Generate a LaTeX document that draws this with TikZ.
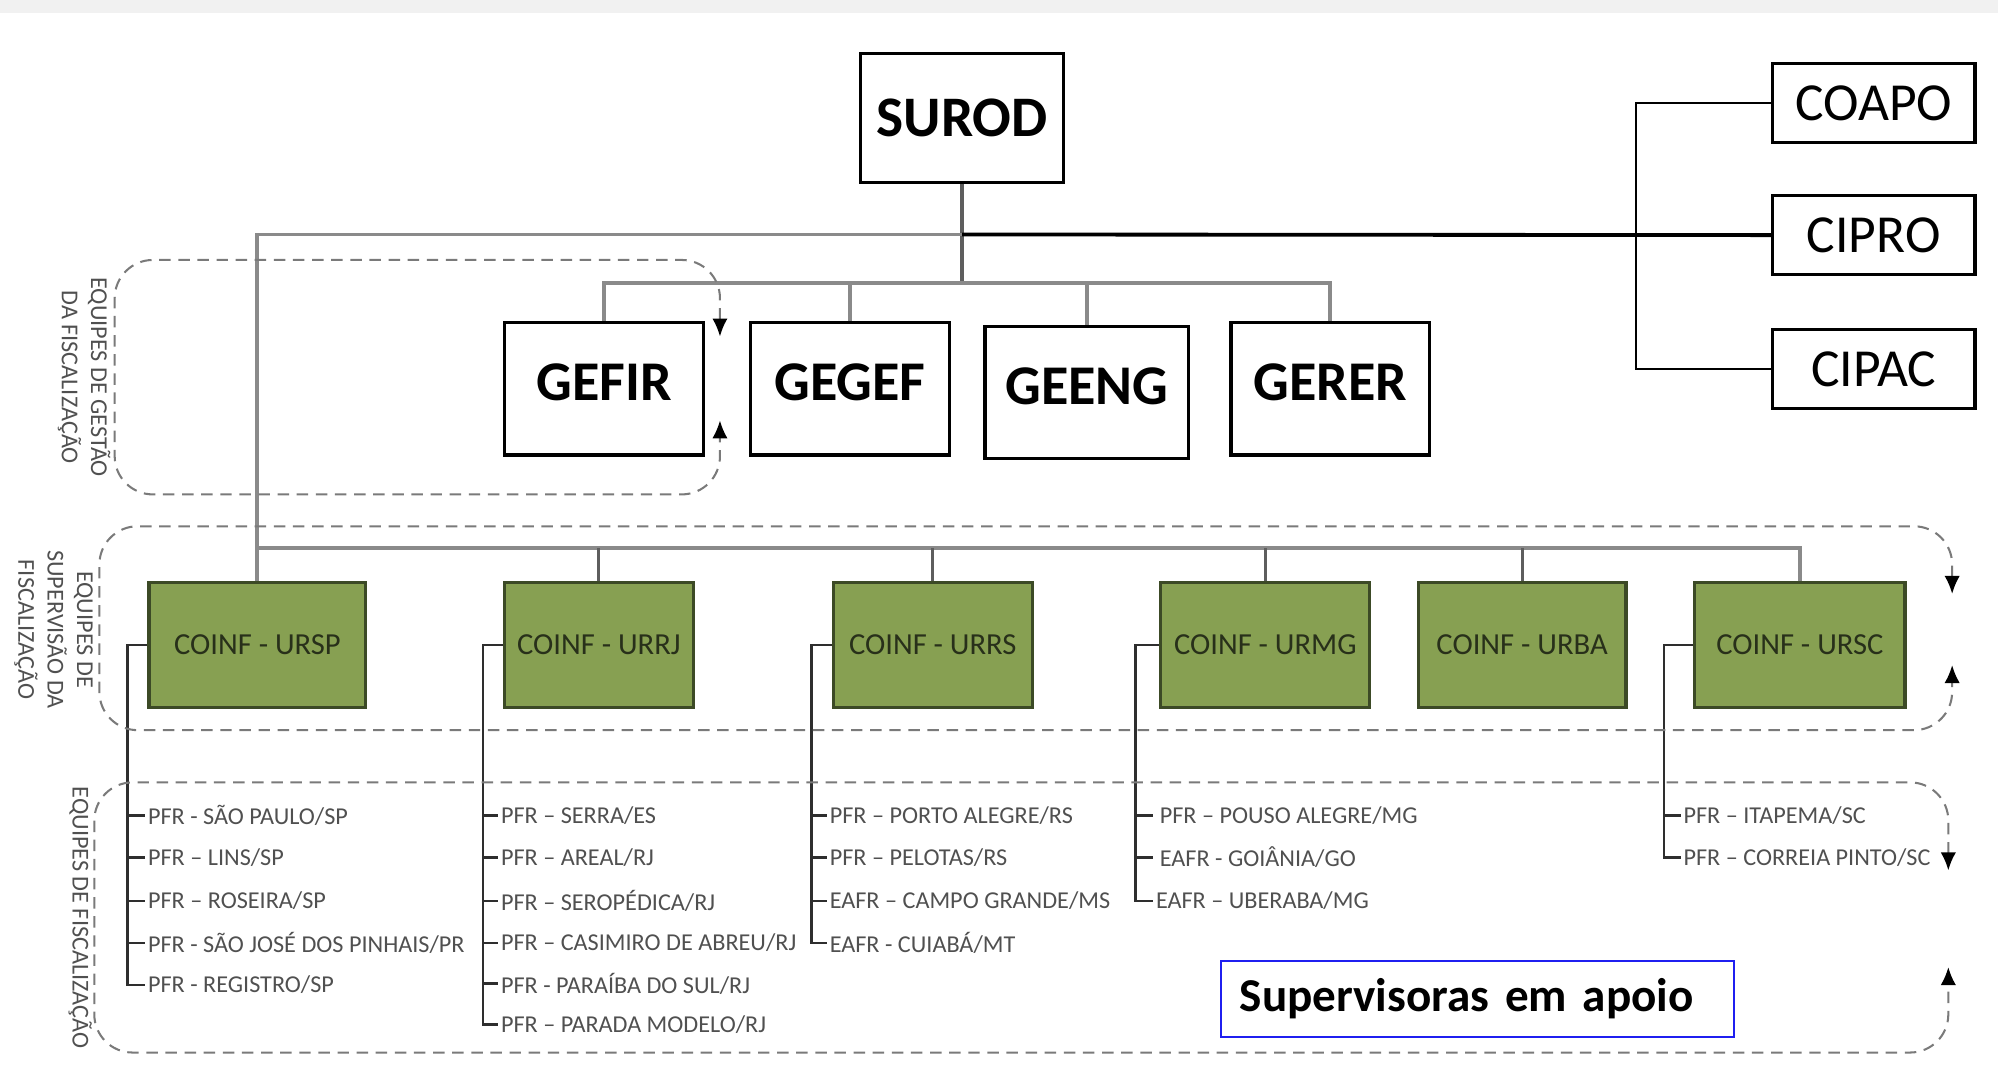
\documentclass[tikz,border=0pt]{standalone}
\usepackage{fontspec}
\setmainfont{Carlito}
\usetikzlibrary{arrows.meta}
\definecolor{coinfgreen}{HTML}{87A052}
\definecolor{coinfedge}{HTML}{3C4A26}
\definecolor{coinftext}{HTML}{28301A}
\definecolor{busgray}{HTML}{8A8A8A}
\definecolor{dropgray}{HTML}{5E5E5E}
\definecolor{dashgray}{HTML}{7A7A7A}
\definecolor{leafgray}{HTML}{505050}
\definecolor{leafline}{HTML}{2E2E2E}
\definecolor{noteblue}{HTML}{1F1FF0}
\definecolor{bandgray}{HTML}{F1F1F1}

\tikzset{
  topbox/.style={draw=black,line width=2.5pt,minimum width=159pt,minimum height=101pt,
    inner sep=0pt,font=\fontsize{45}{50}\selectfont\bfseries},
  gebox/.style={draw=black,line width=2.5pt,minimum width=156pt,minimum height=104pt,
    inner sep=0pt,text depth=10pt,font=\fontsize{44}{50}\selectfont\bfseries},
  sidebox/.style={draw=black,line width=2.5pt,minimum width=159pt,minimum height=62pt,
    inner sep=0pt,font=\fontsize{42}{48}\selectfont},
  coinfbox/.style={fill=coinfgreen,draw=coinfedge,line width=2.5pt,minimum height=98pt,
    inner sep=0pt,text=coinftext,font=\fontsize{24}{28}\selectfont},
  leaf/.style={anchor=west,inner sep=2pt,text=leafgray,font=\fontsize{19}{23}\selectfont},
  sidelabel/.style={rotate=-90,align=center,inner sep=0pt,text=leafgray,
    font=\fontsize{19}{23}\selectfont},
  notebox/.style={draw=noteblue,line width=1.5pt,minimum height=60pt,text width=373pt,
    inner xsep=15pt,align=left,font=\fontsize{37}{42}\selectfont\bfseries},
  busline/.style={busgray,line width=3pt},
  dropline/.style={dropgray,line width=2.5pt},
  linkline/.style={black,line width=3pt},
  treeline/.style={black,line width=2pt},
  stemline/.style={leafline,line width=2pt},
  zoneline/.style={dashgray,line width=1.6pt,dash pattern=on 9pt off 6pt,rounded corners=30pt,
    {Latex[length=14pt,width=12pt,black]}-{Latex[length=14pt,width=12pt,black]}}
}

\begin{document}
\begin{tikzpicture}[x=1pt,y=-1pt]
    \useasboundingbox (0,0) rectangle (1568,855);
    \fill[bandgray] (0,0) rectangle (1568,10);

    % SUROD
    \node[topbox] (surod) at (755,92.5) {SUROD};
    \coordinate (jct) at (755,184);
    \coordinate (gebus) at (755,222);

    % Gerencias
    \node[gebox] (gefir) at (474,305) {GEFIR};
    \node[gebox] (gegef) at (667,305) {GEGEF};
    \node[gebox,minimum width=160pt] (geeng) at (853,308) {GEENG};
    \node[gebox] (gerer) at (1044,305) {GERER};
    \draw[dropline] (surod.south) -- (gebus);
    \draw[busline] (gefir.north) |- (gebus) -| (gerer.north);
    \draw[busline] (gegef.north) -- (gegef.north |- gebus);
    \draw[busline] (geeng.north) -- (geeng.north |- gebus);

    % Coordenacoes a direita
    \node[sidebox] (coapo) at (1470.5,81) {COAPO};
    \node[sidebox] (cipro) at (1470.5,184.5) {CIPRO};
    \node[sidebox] (cipac) at (1470.5,289.5) {CIPAC};
    \coordinate (rtree) at (1284,184);
    \draw[linkline] (jct) -- (cipro.west);
    \draw[treeline] (coapo.west) -| (rtree) |- (cipac.west);

    % COINF
    \node[coinfbox,minimum width=170pt] (ursp) at (202,506) {COINF - URSP};
    \node[coinfbox,minimum width=148pt] (urrj) at (470,506) {COINF - URRJ};
    \node[coinfbox,minimum width=156pt] (urrs) at (732,506) {COINF - URRS};
    \node[coinfbox,minimum width=164pt] (urmg) at (993,506) {COINF - URMG};
    \node[coinfbox,minimum width=163pt] (urba) at (1194.5,506) {COINF - URBA};
    \node[coinfbox,minimum width=165pt] (ursc) at (1412.5,506) {COINF - URSC};
    \coordinate (coinfbus) at (202,430);
    \draw[busline] (jct) -| (coinfbus) -| (ursc.north);
    \draw[busline] (coinfbus) -- (ursp.north);
    \draw[dropline] (urrj.north) -- (urrj.north |- coinfbus);
    \draw[dropline] (urrs.north) -- (urrs.north |- coinfbus);
    \draw[dropline] (urmg.north) -- (urmg.north |- coinfbus);
    \draw[dropline] (urba.north) -- (urba.north |- coinfbus);

    % Equipes - URSP
    \node[leaf] (sp1) at (114,640) {PFR - SÃO PAULO/SP};
    \node[leaf] (sp2) at (114,673) {PFR – LINS/SP};
    \node[leaf] (sp3) at (114,707) {PFR – ROSEIRA/SP};
    \node[leaf] (sp4) at (114,740) {PFR - SÃO JOSÉ DOS PINHAIS/PR};
    \node[leaf] (sp5) at (114,773) {PFR - REGISTRO/SP};
    \coordinate (spbus) at (100,506);
    \draw[stemline] (ursp.west) -- (spbus) |- (sp5.west);
    \draw[stemline] (spbus |- sp1.west) -- (sp1.west) (spbus |- sp2.west) -- (sp2.west)
      (spbus |- sp3.west) -- (sp3.west) (spbus |- sp4.west) -- (sp4.west);

    % Equipes - URRJ
    \node[leaf] (rj1) at (391,640) {PFR – SERRA/ES};
    \node[leaf] (rj2) at (391,673) {PFR – AREAL/RJ};
    \node[leaf] (rj3) at (391,707) {PFR – SEROPÉDICA/RJ};
    \node[leaf] (rj4) at (391,740) {PFR – CASIMIRO DE ABREU/RJ};
    \node[leaf] (rj5) at (391,772) {PFR - PARAÍBA DO SUL/RJ};
    \node[leaf] (rj6) at (391,804) {PFR – PARADA MODELO/RJ};
    \coordinate (rjbus) at (379,506);
    \draw[stemline] (urrj.west) -- (rjbus) |- (rj6.west);
    \draw[stemline] (rjbus |- rj1.west) -- (rj1.west) (rjbus |- rj2.west) -- (rj2.west)
      (rjbus |- rj3.west) -- (rj3.west) (rjbus |- rj4.west) -- (rj4.west)
      (rjbus |- rj5.west) -- (rj5.west);

    % Equipes - URRS
    \node[leaf] (rs1) at (649,640) {PFR – PORTO ALEGRE/RS};
    \node[leaf] (rs2) at (649,673) {PFR – PELOTAS/RS};
    \node[leaf] (rs3) at (649,707) {EAFR – CAMPO GRANDE/MS};
    \node[leaf] (rs4) at (649,740) {EAFR - CUIABÁ/MT};
    \coordinate (rsbus) at (637,506);
    \draw[stemline] (urrs.west) -- (rsbus) |- (rs4.west);
    \draw[stemline] (rsbus |- rs1.west) -- (rs1.west) (rsbus |- rs2.west) -- (rs2.west)
      (rsbus |- rs3.west) -- (rs3.west);

    % Equipes - URMG
    \node[leaf] (mg1) at (908,640) {PFR – POUSO ALEGRE/MG};
    \node[leaf] (mg2) at (908,673) {EAFR - GOIÂNIA/GO};
    \node[leaf] (mg3) at (905,707) {EAFR – UBERABA/MG};
    \coordinate (mgbus) at (891,506);
    \draw[stemline] (urmg.west) -- (mgbus) |- (mg3.west);
    \draw[stemline] (mgbus |- mg1.west) -- ++(14,0) (mgbus |- mg2.west) -- ++(14,0);

    % Equipes - URSC
    \node[leaf] (sc1) at (1319,640) {PFR – ITAPEMA/SC};
    \node[leaf] (sc2) at (1319,673) {PFR – CORREIA PINTO/SC};
    \coordinate (scbus) at (1306,506);
    \draw[stemline] (ursc.west) -- (scbus) |- (sc2.west);
    \draw[stemline] (scbus |- sc1.west) -- (sc1.west);

    % Faixas tracejadas
    \draw[zoneline] (565,264) -- (565,204) -- (90,204) -- (90,388) -- (565,388) -- (565,330);
    \draw[zoneline] (1532,466) -- (1532,413) -- (78,413) -- (78,573) -- (1532,573) -- (1532,522);
    \draw[zoneline] (1529,683) -- (1529,614) -- (74,614) -- (74,826) -- (1529,826) -- (1529,759);
    \node[sidelabel] (lblgestao) at (66,296) {EQUIPES DE GESTÃO\\DA FISCALIZAÇÃO};
    \node[sidelabel] (lblsuperv) at (42,494) {EQUIPES DE\\SUPERVISÃO DA\\FISCALIZAÇÃO};
    \node[sidelabel] (lblfisc) at (63,720) {EQUIPES DE FISCALIZAÇÃO};

    % Supervisoras em apoio
    \node[notebox] (apoio) at (1159.5,784) {Supervisoras em apoio};
  \end{tikzpicture}
\end{document}
